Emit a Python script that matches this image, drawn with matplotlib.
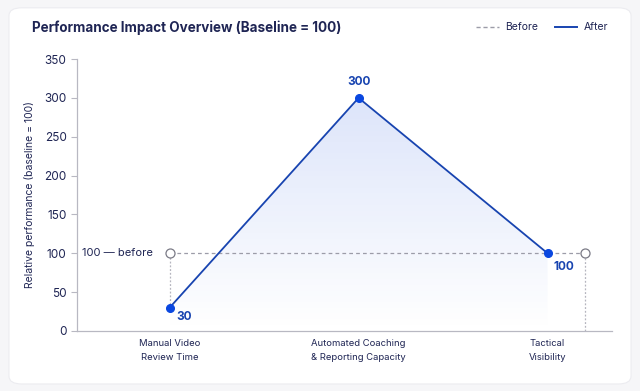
import numpy as np
import matplotlib
matplotlib.use("Agg")
import matplotlib.pyplot as plt
from matplotlib.patches import FancyBboxPatch, Polygon
from matplotlib.lines import Line2D

# ── data ─────────────────────────────────────────────────────────────────────
categories = ["Manual Video\nReview Time", "Automated Coaching\n& Reporting Capacity", "Tactical\nVisibility"]
after_vals = [30, 300, 100]
before_x = [0, 2.2]          # hollow "before" markers
before_vals = [100, 100]

NAVY = "#1f2554"
BLUE = "#1844b0"
DOT = "#0a47e0"
GRAY = "#9c9ca8"

plt.rcParams["font.family"] = ["Inter", "DejaVu Sans"]

fig = plt.figure(figsize=(6.4, 3.91), dpi=100)
fig.patch.set_facecolor("#f6f6f8")
card = FancyBboxPatch((0.014, 0.018), 0.972, 0.962, boxstyle="round,pad=0,rounding_size=0.02",
                      transform=fig.transFigure, facecolor="white", edgecolor="#ececf0",
                      linewidth=0.8, zorder=-5)
fig.patches.append(card)

ax = fig.add_axes([0.1203, 0.1535, 0.8357, 0.6955])
ax.set_facecolor("none")
ax.set_zorder(2)
x = np.arange(len(categories))

# gradient fill under the "after" line
poly = Polygon(list(zip(x, after_vals)) + [(x[-1], 0), (x[0], 0)], closed=True,
               facecolor="none", edgecolor="none")
ax.add_patch(poly)
grad = np.zeros((256, 2, 4))
grad[..., 0], grad[..., 1], grad[..., 2] = 0.16, 0.35, 0.88
grad[..., 3] = np.linspace(0.16, 0.0, 256)[:, None]
im = ax.imshow(grad, extent=[x[0], x[-1], 0, max(after_vals)], aspect="auto",
               origin="upper", zorder=1)
im.set_clip_path(poly)

# before baseline
ax.plot([before_x[0], before_x[1]], before_vals, ls=(0, (3, 2.5)), color=GRAY, lw=0.9, zorder=2)
ax.plot([x[0], x[0]], [after_vals[0], before_vals[0]], ls=(0, (1.5, 1.5)), color="#b5b5bf", lw=0.9, zorder=2)
ax.plot([before_x[1], before_x[1]], [0, before_vals[1]], ls=(0, (1.5, 1.5)), color="#b5b5bf", lw=0.9, zorder=2)
ax.plot(before_x, before_vals, "o", ms=6.5, mfc="white", mec="#7a7a86", mew=0.9, zorder=4)

# after line
ax.plot(x, after_vals, color=BLUE, lw=1.3, zorder=3)
ax.plot(x, after_vals, "o", ms=5.5, color=DOT, zorder=5)

ax.annotate("30", (x[0], after_vals[0]), xytext=(5, -7), textcoords="offset points",
            color=BLUE, fontsize=8.5, fontweight="bold", ha="left", va="center")
ax.annotate("300", (x[1], after_vals[1]), xytext=(0, 7), textcoords="offset points",
            color=BLUE, fontsize=8.5, fontweight="bold", ha="center", va="bottom")
ax.annotate("100", (x[2], after_vals[2]), xytext=(4, -10), textcoords="offset points",
            color=BLUE, fontsize=8.5, fontweight="bold", ha="left", va="center")
ax.annotate("100 — before", (x[0], before_vals[0]), xytext=(-12, 0), textcoords="offset points",
            color=NAVY, fontsize=8, ha="right", va="center")

ax.set_xlim(-0.49, 2.34)
ax.set_ylim(0, 350)
ax.set_xticks(x)
ax.set_xticklabels(categories, fontsize=6.8, color=NAVY, linespacing=1.6)
ax.tick_params(axis="x", length=0, pad=6)
ax.set_yticks(np.arange(0, 351, 50))
ax.tick_params(axis="y", labelsize=8.5, labelcolor=NAVY, color="#b8b8c2", length=4, width=0.8)
for s in ["top", "right"]:
    ax.spines[s].set_visible(False)
for s in ["left", "bottom"]:
    ax.spines[s].set_color("#b8b8c2")
    ax.spines[s].set_linewidth(0.9)
ax.set_ylabel("Relative performance (baseline = 100)", fontsize=7.5, color=NAVY, labelpad=7)

fig.text(0.05, 0.93, "Performance Impact Overview (Baseline = 100)", fontsize=9.7,
         fontweight="bold", color=NAVY, va="center", ha="left")
handles = [Line2D([], [], color=GRAY, ls=(0, (3, 2)), lw=1),
           Line2D([], [], color=BLUE, lw=1.4)]
fig.legend(handles, ["Before", "After"], loc="center right", bbox_to_anchor=(0.965, 0.93),
           ncol=2, frameon=False, fontsize=7.5, labelcolor=NAVY, handlelength=2.2,
           columnspacing=1.6, handletextpad=0.6)

fig.savefig("out.png", dpi=100)
